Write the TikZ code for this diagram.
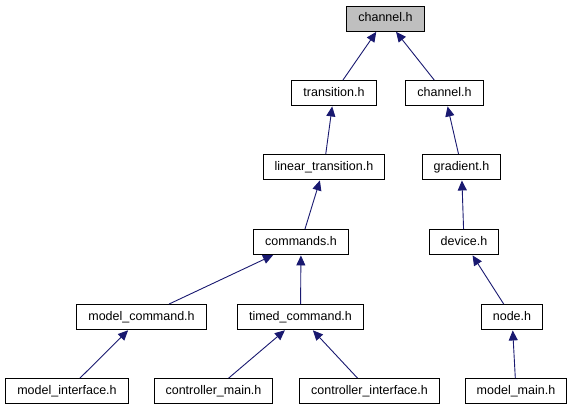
\documentclass[tikz,border=0pt]{standalone}
\usepackage{fontspec}
\setmainfont{Liberation Sans}
\usepackage{tikz}
\usetikzlibrary{arrows.meta}
\definecolor{edgeblue}{HTML}{191970}
\tikzset{
    hdr/.style={draw=black, line width=0.9pt, fill=white, inner xsep=11.5pt, inner ysep=0pt,
        minimum height=25pt, text height=9pt, text depth=2.6pt, font=\fontsize{12.5}{14}\selectfont},
    cur/.style={hdr, fill=black!25},
    inc/.style={draw=edgeblue, line width=0.9pt, -{Triangle[length=10pt,width=9pt]}, shorten >=0.5pt}
}
\begin{document}
\begin{tikzpicture}[x=1pt, y=-1pt]
    \useasboundingbox (0,0) rectangle (573,411);

    % Headers
    \node[cur] (chan) at (385.5,18.5) {channel.h};
    \node[hdr] (trans) at (334,93) {transition.h};
    \node[hdr] (chansub) at (444.5,93) {channel.h};
    \node[hdr] (lintrans) at (324,167) {linear\_transition.h};
    \node[hdr] (grad) at (461.5,167) {gradient.h};
    \node[hdr] (cmds) at (301,242) {commands.h};
    \node[hdr] (dev) at (464,242) {device.h};
    \node[hdr] (modcmd) at (141.5,317) {model\_command.h};
    \node[hdr] (timcmd) at (300.5,317) {timed\_command.h};
    \node[hdr] (nodeh) at (512,317) {node.h};
    \node[hdr] (modint) at (67,391) {model\_interface.h};
    \node[hdr] (ctlmain) at (213.5,391) {controller\_main.h};
    \node[hdr] (ctlint) at (369.5,391) {controller\_interface.h};
    \node[hdr] (modmain) at (516,391) {model\_main.h};

    % Include edges
    \draw[inc] (trans) -- (chan);
    \draw[inc] (chansub) -- (chan);
    \draw[inc] (lintrans) -- (trans);
    \draw[inc] (grad) -- (chansub);
    \draw[inc] (cmds) -- (lintrans);
    \draw[inc] (dev) -- (grad);
    \draw[inc] (modcmd) -- (cmds);
    \draw[inc] (timcmd) -- (cmds);
    \draw[inc] (nodeh) -- (dev);
    \draw[inc] (modint) -- (modcmd);
    \draw[inc] (ctlmain) -- (timcmd);
    \draw[inc] (ctlint) -- (timcmd);
    \draw[inc] (modmain) -- (nodeh);
\end{tikzpicture}
\end{document}
